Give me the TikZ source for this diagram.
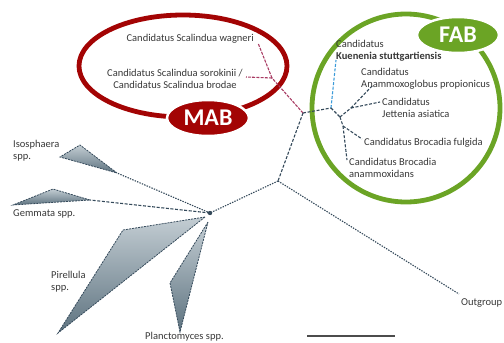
\documentclass[tikz,border=0pt]{standalone}
\usepackage{fontspec}
\setmainfont{Carlito}
\usetikzlibrary{shapes.geometric}
\definecolor{mabred}{HTML}{A30404}
\definecolor{fabgreen}{HTML}{6BA425}
\definecolor{branch}{HTML}{34495A}
\definecolor{redbranch}{HTML}{A83A62}
\definecolor{bluebranch}{HTML}{3A9AD9}
\definecolor{fandark}{HTML}{5E7380}
\definecolor{fanlight}{HTML}{C3CDD3}
\definecolor{labelgray}{HTML}{383838}
\tikzset{
  br/.style={draw=branch, line width=1.1pt, dash pattern=on 3pt off 1.6pt},
  dotbr/.style={draw=branch, line width=1.1pt, dash pattern=on 1.4pt off 1.2pt},
  redbr/.style={draw=redbranch, line width=1.1pt, dash pattern=on 3pt off 1.2pt},
  bluebr/.style={draw=bluebranch, line width=1.1pt, dash pattern=on 3pt off 1.6pt},
  lbl/.style={font=\fontsize{10.5}{11.8}\selectfont, text=labelgray, inner sep=0pt, align=left},
  fan/.style={draw=branch, line width=0.8pt, dash pattern=on 2pt off 1pt, left color=fanlight, right color=fandark, shading angle=0},
  badge/.style={ellipse, draw=white, line width=2.5pt, text=white, font=\fontsize{24}{24}\selectfont\bfseries, minimum width=82pt, minimum height=36pt, inner sep=0pt},
}
\begin{document}
\begin{tikzpicture}[x=1pt,y=-1pt]
\useasboundingbox (0,0) rectangle (504,343);

% group circles
\draw[mabred, line width=4.8pt] (183,66) ellipse [x radius=104, y radius=51];
\draw[fabgreen, line width=4.8pt] (406,108) circle [radius=94];

% main tree coordinates
\coordinate (A) at (303,113);
\coordinate (B) at (278,181);
\coordinate (C) at (210,213);
\coordinate (M) at (272,78);
\coordinate (F1) at (331,108);
\coordinate (F2) at (340,117);
\coordinate (F3) at (351,108);
\coordinate (F4) at (343,126);

% fans (collapsed clades)
\shadedraw[fan] (117,173) -- (80,145) -- (60,157) -- cycle;
\shadedraw[fan] (90,200) -- (53,189) -- (13,205) -- cycle;
\shadedraw[fan] (205,217) -- (123,230) -- (58,333) -- cycle;
\shadedraw[fan] (208,222) -- (170,283) -- (180,332) -- cycle;
\coordinate (T1) at (117,173);
\coordinate (T2) at (90,200);
\fill[branch] (C) circle (2.2pt);

% branches
\draw[br] (A) -- (B);
\draw[dotbr] (B) -- (C);
\draw[dotbr] (B) -- (459,294) coordinate (OG);
\draw[dotbr] (C) -- (T1);
\draw[br] (C) -- (T2);
\draw[redbr] (A) -- (M);
\draw[redbr] (M) -- (258,43) coordinate (L1);
\draw[redbr] (M) -- (246,77) coordinate (L2);
\draw[br] (A) -- (F1);
\draw[bluebr] (F1) -- (336,60) coordinate (K);
\draw[br] (F1) -- (F2);
\draw[br] (F2) -- (F3);
\draw[br] (F3) -- (373,85) coordinate (AP);
\draw[br] (F3) -- (380,102) coordinate (JA);
\draw[br] (F2) -- (F4);
\draw[br] (F4) -- (362,139) coordinate (BF);
\draw[br] (F4) -- (347,160) coordinate (BA);

% scale bar
\draw[draw=black!70, line width=2pt] (307,336) -- (395,336);

% labels
\node[lbl, anchor=east] (nwag) at (254,39) {Candidatus Scalindua wagneri};
\node[lbl, anchor=east, align=center] (nsor) at (243,79) {Candidatus Scalindua sorokinii /\\Candidatus Scalindua brodae};
\node[lbl, anchor=west] (nkue) at (336,51) {Candidatus\\\textbf{Kuenenia stuttgartiensis}};
\node[lbl, anchor=west] (nana) at (361,79) {Candidatus\\Anammoxoglobus propionicus};
\node[lbl, anchor=west] (njet) at (382,108) {Candidatus\\Jettenia asiatica};
\node[lbl, anchor=west] (nbf) at (364,143) {Candidatus Brocadia fulgida};
\node[lbl, anchor=west] (nba) at (349,168) {Candidatus Brocadia\\anammoxidans};
\node[lbl, anchor=west] (nog) at (461,303) {Outgroup};
\node[lbl, anchor=west] (ngem) at (13,151) {Isosphaera\\spp.};
\node[lbl, anchor=west] (niso) at (13,214) {Gemmata spp.};
\node[lbl, anchor=west] (npir) at (51,282) {Pirellula\\spp.};
\node[lbl, anchor=west] (npla) at (145,337) {Planctomyces spp.};

% badges
\node[badge, fill=mabred] (mab) at (208,118) {MAB};
\node[badge, fill=fabgreen] (fab) at (458,35) {FAB};
\end{tikzpicture}
\end{document}
